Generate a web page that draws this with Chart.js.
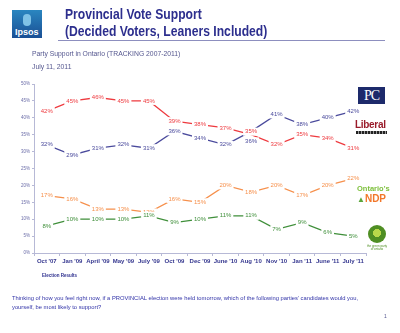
<!DOCTYPE html>
<html>
<head>
<meta charset="utf-8">
<script src="https://cdn.jsdelivr.net/npm/chart.js@4/dist/chart.umd.min.js"></script>
<style>
  html, body { margin: 0; padding: 0; background: #fff; }
  #page { position: relative; width: 400px; height: 333px; overflow: hidden; font-family: "Liberation Sans", Arial, sans-serif; }
  #chartBox { position: absolute; left: 0; top: 0; width: 400px; height: 333px; }
  .abs { position: absolute; white-space: nowrap; }
  #logo { left: 12px; top: 10px; width: 30px; height: 28px; background: linear-gradient(#2a86c0, #1a4f94); }
  #logo .fig { position: absolute; left: 11px; top: 4px; width: 8px; height: 12px; border-radius: 4px; background: #7fc2e6; }
  #logo .txt { position: absolute; left: 3px; bottom: 1px; color: #fff; font-weight: bold; font-size: 9px; }
  .title { left: 65px; color: #2d2f8e; font-weight: bold; font-size: 15px; transform: scaleX(0.81); transform-origin: 0 0; }
  #rule { left: 58px; top: 40px; width: 327px; height: 1px; background: #8d8fbf; }
  .sub { left: 32px; color: #55578f; font-size: 6.8px; }
  #elect { left: 42px; top: 273px; color: #2d2f8e; font-size: 4.5px; font-weight: bold; }
  #question { left: 12px; top: 294px; color: #3234a8; font-size: 5.8px; line-height: 9px; white-space: normal; width: 352px; }
  #pageno { left: 384px; top: 313px; color: #55578f; font-size: 5px; }
  #pc { left: 358px; top: 87px; width: 27px; height: 17px; background: #1d2a6b; color: #fff; font-family: "Liberation Serif", serif; font-size: 14px; line-height: 17px; text-align: center; letter-spacing: -1px; }
  #lib { left: 355px; top: 119px; color: #9a1b2a; font-weight: bold; font-size: 10px; letter-spacing: -0.3px; }
  #libsub { left: 356px; top: 131px; width: 31px; height: 3px; background: repeating-linear-gradient(90deg, #222 0 2px, #999 2px 3px); }
  #ndp1 { left: 357px; top: 184px; color: #7cbf3a; font-weight: bold; font-size: 7.5px; }
  #ndp2 { left: 357px; top: 193px; color: #f2772a; font-weight: bold; font-size: 10px; }
  #ndp2 .leaf { color: #5aa53a; font-size: 8px; }
  #green { left: 368px; top: 225px; width: 18px; height: 18px; border-radius: 50%; background: radial-gradient(circle at 50% 45%, #b9d84a 0 30%, #4f8e23 31% 100%); }
  #greensub { left: 366px; top: 245px; color: #4f8e23; font-size: 3px; line-height: 3px; text-align: center; width: 22px; white-space: normal; }
</style>
</head>
<body>
<div id="page">
  <div id="chartBox"><canvas id="chart" width="400" height="333"></canvas></div>

  <div class="abs" id="logo"><div class="fig"></div><div class="txt">Ipsos</div></div>
  <div class="abs title" style="top:5px;">Provincial Vote Support</div>
  <div class="abs title" style="top:22px;">(Decided Voters, Leaners Included)</div>
  <div class="abs" id="rule"></div>
  <div class="abs sub" style="top:50px;">Party Support in Ontario (TRACKING 2007-2011)</div>
  <div class="abs sub" style="top:63px;">July 11, 2011</div>

  <div class="abs" id="pc">PC</div>
  <div class="abs" id="lib">Liberal</div>
  <div class="abs" id="libsub"></div>
  <div class="abs" id="ndp1">Ontario's</div>
  <div class="abs" id="ndp2"><span class="leaf">&#9650;</span>NDP</div>
  <div class="abs" id="green"></div>
  <div class="abs" id="greensub">the green party of ontario</div>

  <div class="abs" id="elect">Election Results</div>
  <div class="abs" id="question">Thinking of how you feel right now, if a PROVINCIAL election were held tomorrow, which of the following parties' candidates would you, yourself, be most likely to support?</div>
  <div class="abs" id="pageno">1</div>
</div>

<script>
// Poll waves
const waves = ["Oct '07", "Jan '09", "April '09", "May '09", "July '09", "Oct '09", "Dec '09",
               "June '10", "Aug '10", "Nov '10", "Jan '11", "June '11", "July '11"];

// Decided vote share by party (%)
const pcVotes      = [32, 29, 31, 32, 31, 36, 34, 32, 36, 41, 38, 40, 42];
const liberalVotes = [42, 45, 46, 45, 45, 39, 38, 37, 35, 32, 35, 34, 31];
const ndpVotes     = [17, 16, 13, 13, 12, 16, 15, 20, 18, 20, 17, 20, 22];
const greenVotes   = [8, 10, 10, 10, 11, 9, 10, 11, 11, 7, 9, 6, 5];

// Y axis ticks (%)
const yTicks = [0, 5, 10, 15, 20, 25, 30, 35, 40, 45, 50];

const PC_BLUE = '#4a4a9c';
const LIB_RED = '#ee3a3f';
const NDP_ORANGE = '#f6904c';
const GREEN = '#3f8f3a';

function series(label, data, color, nudge) {
  return {
    label, data,
    borderColor: color,
    backgroundColor: color,
    borderWidth: 1.3,
    pointRadius: 0,
    tension: 0,
    fill: false,
    labelNudge: nudge || {}
  };
}

// Writes each value at its point on a white patch, so the line breaks around it.
// Where two parties meet, the labels are pushed apart vertically.
const valueLabels = {
  id: 'valueLabels',
  afterDatasetsDraw(chart) {
    const ctx = chart.ctx;
    ctx.save();
    ctx.font = '6px "Liberation Sans", Arial, sans-serif';
    ctx.textAlign = 'center';
    ctx.textBaseline = 'middle';
    chart.data.datasets.forEach((ds, i) => {
      const meta = chart.getDatasetMeta(i);
      meta.data.forEach((pt, j) => {
        const txt = ds.data[j] + '%';
        const y = pt.y + (ds.labelNudge[j] || 0);
        const w = ctx.measureText(txt).width;
        ctx.fillStyle = '#fff';
        ctx.fillRect(pt.x - w / 2 - 2, y - 4, w + 4, 8);
        ctx.fillStyle = ds.borderColor;
        ctx.fillText(txt, pt.x, y);
      });
    });
    ctx.restore();
  }
};

new Chart(document.getElementById('chart'), {
  type: 'line',
  data: {
    labels: waves,
    datasets: [
      series('PC', pcVotes, PC_BLUE, { 8: 10 }),
      series('Liberal', liberalVotes, LIB_RED, { 8: -3 }),
      series('NDP', ndpVotes, NDP_ORANGE),
      series('Green', greenVotes, GREEN)
    ]
  },
  options: {
    responsive: false,
    animation: false,
    devicePixelRatio: 1,
    layout: { padding: { left: 0, top: 84, right: 34, bottom: 60 } },
    plugins: { legend: { display: false }, tooltip: { enabled: false } },
    scales: {
      x: {
        offset: true,
        grid: { display: true, drawOnChartArea: false, offset: true, color: '#b7b9d6', tickLength: 3 },
        border: { color: '#b7b9d6', width: 1 },
        ticks: {
          color: '#35378f',
          font: { size: 6, weight: 'bold', family: '"Liberation Sans", Arial, sans-serif' },
          padding: 2, maxRotation: 0, autoSkip: false
        },
        afterFit(scale) { scale.height = 20; }
      },
      y: {
        min: 0, max: 50,
        afterBuildTicks(scale) { scale.ticks = yTicks.map(v => ({ value: v })); },
        grid: { display: true, drawOnChartArea: false, color: '#b7b9d6', tickLength: 2 },
        border: { color: '#b7b9d6', width: 1 },
        ticks: {
          color: '#6b6da8',
          font: { size: 4.5, family: '"Liberation Sans", Arial, sans-serif' },
          padding: 2,
          callback: v => v + '%'
        },
        afterFit(scale) { scale.width = 34; }
      }
    }
  },
  plugins: [valueLabels]
});
</script>
</body>
</html>
